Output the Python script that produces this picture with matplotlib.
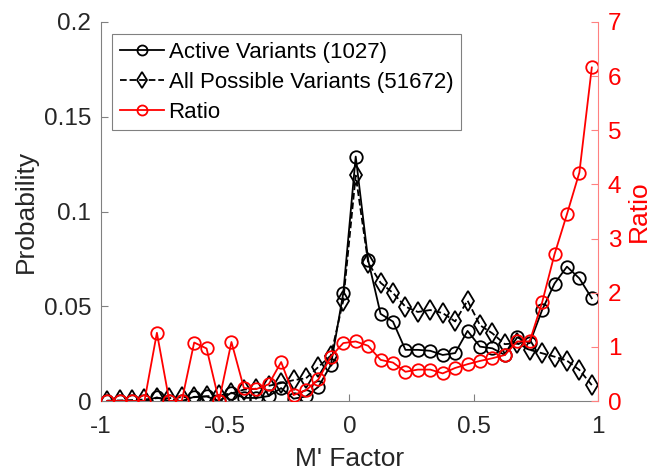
import numpy as np
import matplotlib
matplotlib.use("Agg")
import matplotlib.pyplot as plt

plt.rcParams["font.family"] = ["Liberation Sans", "DejaVu Sans"]

# M' factor bin centres
m_factor = np.arange(-0.975, 1.0, 0.05)

# Probability of active variants (1027)
active = [0, 0, 0, 0, 0.0019, 0, 0, 0.0022, 0.0024, 0,
          0.0044, 0.0017, 0.0016, 0.0026, 0.0068, 0.0012, 0.0024, 0.0075, 0.019, 0.057,
          0.129, 0.0744, 0.046, 0.0419, 0.027, 0.027, 0.0265, 0.0243, 0.0253, 0.037,
          0.0287, 0.0278, 0.0243, 0.0336, 0.0305, 0.048, 0.062, 0.0709, 0.0647, 0.0542]

# Probability of all possible variants (51672)
all_possible = [0.0002, 0.0003, 0.0005, 0.0008, 0.0015, 0.0015, 0.002, 0.002, 0.0025, 0.003,
                0.004, 0.006, 0.0065, 0.008, 0.0095, 0.011, 0.012, 0.018, 0.024, 0.053,
                0.119, 0.073, 0.0624, 0.057, 0.0498, 0.047, 0.048, 0.0464, 0.042, 0.053,
                0.040, 0.0357, 0.030, 0.0305, 0.027, 0.0252, 0.0234, 0.0213, 0.0164, 0.0084]

# Ratio active / all
ratio = [0, 0, 0, 0, 1.26, 0, 0, 1.08, 0.97, 0,
         1.09, 0.24, 0.22, 0.31, 0.72, 0.11, 0.2, 0.4, 0.82, 1.07,
         1.10, 1.02, 0.76, 0.71, 0.54, 0.58, 0.58, 0.51, 0.61, 0.68,
         0.74, 0.79, 0.85, 1.10, 1.10, 1.82, 2.71, 3.45, 4.22, 6.16]

fig = plt.figure(figsize=(6.54, 4.73), dpi=100)
ax = fig.add_axes([0.1544, 0.1522, 0.76, 0.8013])
ax2 = ax.twinx()

l1, = ax.plot(m_factor, active, "-o", color="black", lw=1.3, ms=9, mfc="none", mew=1.3,
              label="Active Variants (1027)")
l2, = ax.plot(m_factor, all_possible, "--d", color="black", lw=1.3, ms=10, mfc="none", mew=1.3,
              label="All Possible Variants (51672)")
l3, = ax2.plot(m_factor, ratio, "-o", color="red", lw=1.3, ms=9, mfc="none", mew=1.3,
               label="Ratio")

ax.set_xlim(-1, 1)
ax.set_ylim(0, 0.2)
ax2.set_ylim(0, 7)
ax.set_xticks([-1, -0.5, 0, 0.5, 1])
ax.set_xticklabels(["-1", "-0.5", "0", "0.5", "1"])
ax.set_yticks([0, 0.05, 0.1, 0.15, 0.2])
ax.set_yticklabels(["0", "0.05", "0.1", "0.15", "0.2"])
ax2.set_yticks(range(8))

for a in (ax, ax2):
    a.spines["top"].set_visible(False)
ax.spines["right"].set_visible(False)
ax.spines["left"].set_color("#808080")
ax.spines["bottom"].set_color("#808080")
ax2.spines["left"].set_visible(False)
ax2.spines["bottom"].set_visible(False)
ax2.spines["right"].set_color("#ff8080")

ax.tick_params(direction="in", length=5, labelsize=17.5, color="#808080", labelcolor="#262626")
ax.tick_params(axis="x", pad=11)
ax.tick_params(axis="y", pad=7)
ax2.tick_params(direction="in", length=5, labelsize=17.5, color="#ff8080", labelcolor="red", pad=7)

ax.set_xlabel("M' Factor", fontsize=19, color="#262626", labelpad=6)
ax.set_ylabel("Probability", fontsize=19, color="#262626")
ax2.set_ylabel("Ratio", fontsize=19, color="red")

# legend on the twin axes so it sits above the red line
leg = ax2.legend(handles=[l1, l2, l3], loc="upper left", bbox_to_anchor=(0.022, 0.968),
                 fontsize=16, frameon=True, fancybox=False, edgecolor="#808080",
                 framealpha=1, handlelength=2.0, handletextpad=0.2, borderpad=0.35,
                 labelspacing=0.4, borderaxespad=0, markerscale=0.8)
leg.get_frame().set_linewidth(0.8)

fig.savefig("out.png", dpi=100)
